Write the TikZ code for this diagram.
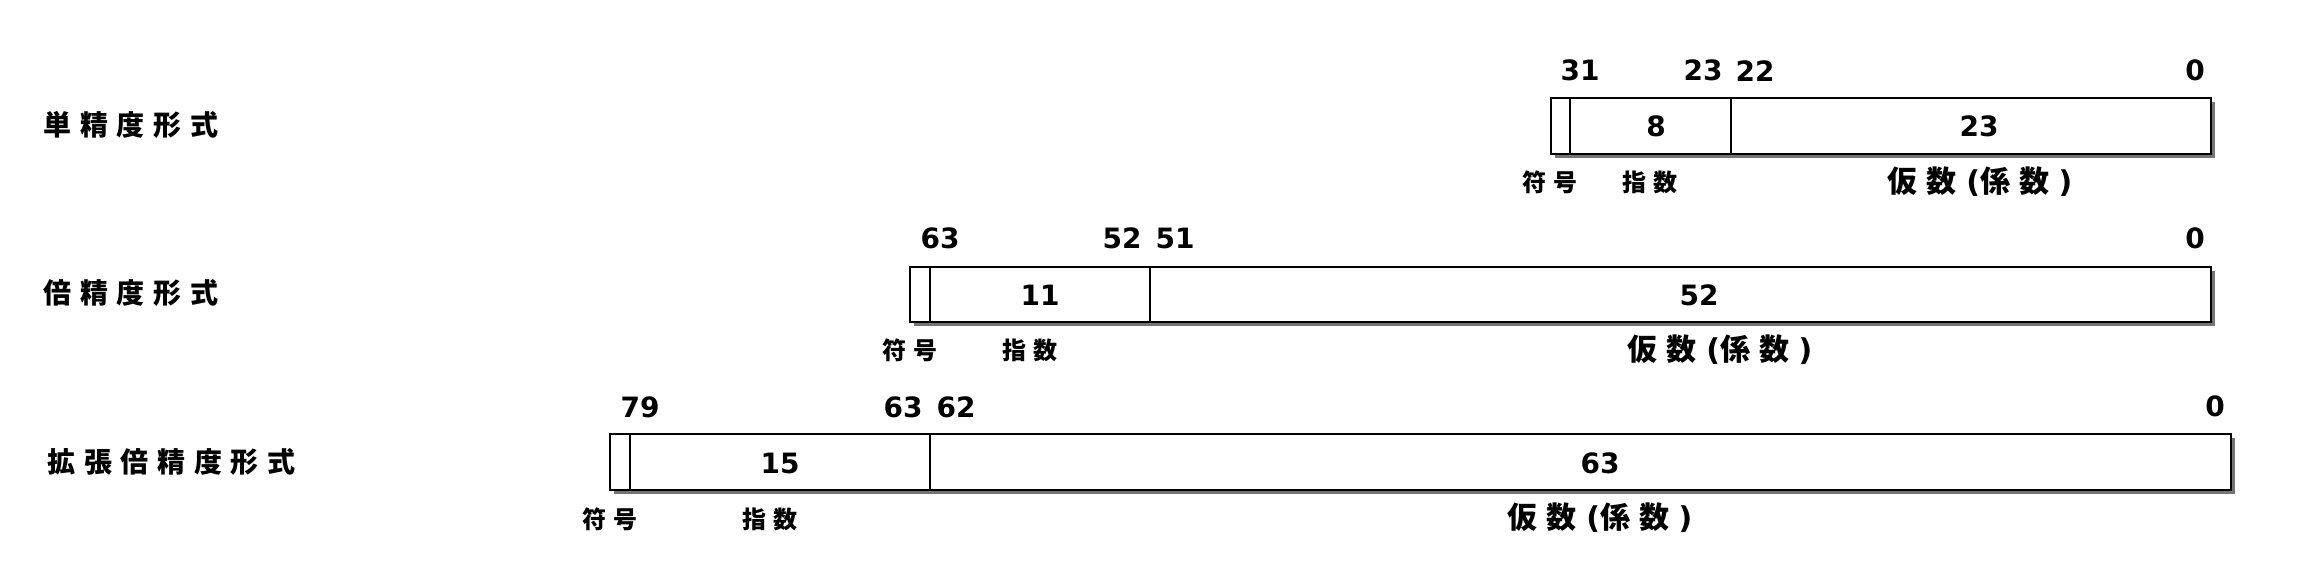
\documentclass[tikz,border=0pt]{standalone}
\usepackage{fontspec}
\setmainfont{DejaVu Sans}
\newfontfamily\cjk{Noto Sans CJK JP}
\usetikzlibrary{shadows}

\newcommand{\gap}{\hspace{0.31em}}

\tikzset{
  bitnum/.style={font=\fontsize{14}{16}\selectfont\bfseries, inner sep=0pt},
  fmtname/.style={font=\fontsize{14}{16}\selectfont\cjk\bfseries, inner sep=0pt, anchor=west},
  partname/.style={font=\fontsize{12}{14}\selectfont\cjk\bfseries, inner sep=0pt},
  mantname/.style={font=\fontsize{15}{17}\selectfont\cjk\bfseries, inner sep=0pt},
  fieldbox/.style={draw, line width=1pt, fill=white,
    drop shadow={shadow xshift=2pt, shadow yshift=-2pt, fill=black!60, opacity=0.9}},
  divider/.style={line width=1pt}
}

\begin{document}
\begin{tikzpicture}[x=0.5pt,y=-0.5pt]
  \useasboundingbox (0,0) rectangle (2300,588);

  % Single precision
  \node[fmtname] (singlename) at (43,125) {単\gap 精\gap 度\gap 形\gap 式};
  \draw[fieldbox] (1550.7,98) rectangle (2210.7,154); % frame single
  \draw[divider] (1570.3,98) -- (1570.3,154);     % sign | exponent
  \draw[divider] (1730.7,98) -- (1730.7,154);     % exponent | fraction
  \node[bitnum] (s31) at (1580,70.7) {31};
  \node[bitnum] (s23) at (1703,70.7) {23};
  \node[bitnum] (s22) at (1755,70.7) {22};
  \node[bitnum] (s0)  at (2195,70.7) {0};
  \node[bitnum] (sexp)  at (1656,126.7) {8};
  \node[bitnum] (sfrac) at (1979,126.7) {23};
  \node[partname] (ssign) at (1550,182.5) {符\gap 号};
  \node[partname] (sexpname) at (1650,182.5) {指\gap 数};
  \node[mantname] (sfracname) at (1980,182) {仮\gap 数\gap{\normalfont\bfseries(}係\gap 数\gap{\normalfont\bfseries)}};

  % Double precision
  \node[fmtname] (doublename) at (43,293) {倍\gap 精\gap 度\gap 形\gap 式};
  \draw[fieldbox] (910,266.7) rectangle (2210.7,322); % frame double
  \draw[divider] (930,266.7) -- (930,322);
  \draw[divider] (1150,266.7) -- (1150,322);
  \node[bitnum] (d63) at (940,238) {63};
  \node[bitnum] (d52) at (1122,238) {52};
  \node[bitnum] (d51) at (1175,238) {51};
  \node[bitnum] (d0)  at (2195,238) {0};
  \node[bitnum] (dexp)  at (1040,295) {11};
  \node[bitnum] (dfrac) at (1699,295) {52};
  \node[partname] (dsign) at (910,350) {符\gap 号};
  \node[partname] (dexpname) at (1030,350) {指\gap 数};
  \node[mantname] (dfracname) at (1720,350) {仮\gap 数\gap{\normalfont\bfseries(}係\gap 数\gap{\normalfont\bfseries)}};

  % Extended double precision
  \node[fmtname] (extname) at (47,462) {拡\gap 張\gap 倍\gap 精\gap 度\gap 形\gap 式};
  \draw[fieldbox] (610,434.3) rectangle (2230.7,490); % frame extended
  \draw[divider] (630.3,434.3) -- (630.3,490);
  \draw[divider] (930.3,434.3) -- (930.3,490);
  \node[bitnum] (e79) at (640,407) {79};
  \node[bitnum] (e63) at (903,407) {63};
  \node[bitnum] (e62) at (956,407) {62};
  \node[bitnum] (e0)  at (2215,406) {0};
  \node[bitnum] (eexp)  at (780,463) {15};
  \node[bitnum] (efrac) at (1600,463) {63};
  \node[partname] (esign) at (610,519) {符\gap 号};
  \node[partname] (eexpname) at (770,519) {指\gap 数};
  \node[mantname] (efracname) at (1600,518) {仮\gap 数\gap{\normalfont\bfseries(}係\gap 数\gap{\normalfont\bfseries)}};

\end{tikzpicture}
\end{document}
